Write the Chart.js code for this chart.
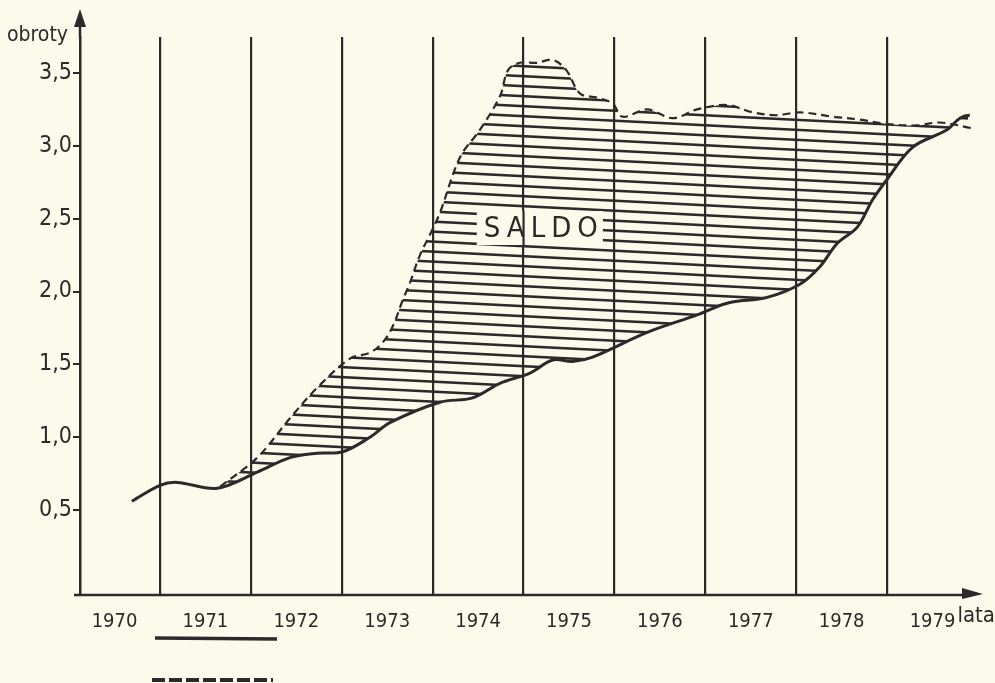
<!DOCTYPE html>
<html>
<head>
<meta charset="utf-8">
<script src="https://cdn.jsdelivr.net/npm/chart.js@4"></script>
<style>
  body { margin: 0; background: #fbfbec; }
  #wrap { width: 995px; height: 683px; position: relative; }
</style>
</head>
<body>
<div id="wrap"><canvas id="myChart"></canvas></div>
<script>
// year labels and band boundaries (vertical lines)
const years = [1970, 1971, 1972, 1973, 1974, 1975, 1976, 1977, 1978, 1979];
const boundaries = [1970.5, 1971.5, 1972.5, 1973.5, 1974.5, 1975.5, 1976.5, 1977.5, 1978.5];
const yTicks = [0.5, 1.0, 1.5, 2.0, 2.5, 3.0, 3.5];

// solid line (lower curve)
const solidX = [1970.19, 1970.5, 1970.69, 1971.13, 1971.57, 1971.93, 1972.23, 1972.51, 1972.81, 1973.03,
  1973.58, 1973.94, 1974.24, 1974.57, 1974.82, 1975.04, 1975.26, 1975.86, 1976.41, 1976.74,
  1977.18, 1977.54, 1977.76, 1977.95, 1978.17, 1978.34, 1978.5, 1978.78, 1979.16, 1979.3, 1979.41, 1979.47];
const solidY = [0.56, 0.67, 0.69, 0.65, 0.76, 0.86, 0.89, 0.90, 1.00, 1.10,
  1.24, 1.27, 1.37, 1.44, 1.53, 1.52, 1.55, 1.72, 1.84, 1.92,
  1.96, 2.05, 2.17, 2.33, 2.44, 2.63, 2.77, 2.99, 3.11, 3.19, 3.21, 3.19];

// dashed line (upper curve)
const dashedX = [1971.16, 1971.57, 1971.93, 1972.23, 1972.59, 1972.81, 1972.95, 1973.06, 1973.17, 1973.25,
  1973.36, 1973.47, 1973.58, 1973.8, 1974.02, 1974.24, 1974.33, 1974.46, 1974.65, 1974.82,
  1974.97, 1975.12, 1975.31, 1975.48, 1975.59, 1975.86, 1976.14, 1976.41, 1976.74, 1977.02,
  1977.28, 1977.54, 1977.9, 1978.2, 1978.5, 1978.83, 1979.08, 1979.44];
const dashedY = [0.66, 0.86, 1.13, 1.34, 1.54, 1.58, 1.65, 1.76, 1.94, 2.06,
  2.25, 2.39, 2.54, 2.92, 3.11, 3.34, 3.52, 3.57, 3.57, 3.59,
  3.52, 3.36, 3.33, 3.29, 3.20, 3.25, 3.19, 3.25, 3.28, 3.23,
  3.21, 3.23, 3.20, 3.18, 3.15, 3.14, 3.16, 3.12];

const ink = '#2a2a2a';
const paper = '#fbfbec';
const font = "'DejaVu Sans Condensed', 'DejaVu Sans', sans-serif";

// hatch pattern: slightly slanted horizontal lines
function makeHatch() {
    const c = document.createElement('canvas');
    c.width = 200; c.height = 10;
    const g = c.getContext('2d');
    g.strokeStyle = ink;
    g.lineWidth = 2.6;
    for (let k = -1; k <= 1; k++) {
        g.beginPath();
        g.moveTo(0, k * 10);
        g.lineTo(200, k * 10 + 10);
        g.stroke();
    }
    return g.createPattern(c, 'repeat');
}

const decor = {
    id: 'decor',
    afterDraw(chart) {
        const ctx = chart.ctx;
        const a = chart.chartArea;
        const xs = chart.scales.x, ys = chart.scales.y, gs = chart.scales.x2;
        ctx.save();
        ctx.strokeStyle = ink;
        ctx.fillStyle = ink;
        ctx.lineWidth = 2.5;
        // y axis extension + arrow
        ctx.beginPath();
        ctx.moveTo(a.left, a.top);
        ctx.lineTo(a.left, 20);
        ctx.stroke();
        ctx.beginPath();
        ctx.moveTo(a.left, 9);
        ctx.lineTo(a.left - 6, 27);
        ctx.lineTo(a.left + 6, 27);
        ctx.closePath();
        ctx.fill();
        // x axis extension + arrow
        ctx.beginPath();
        ctx.moveTo(a.left - 6, a.bottom);
        ctx.lineTo(a.right + 4, a.bottom);
        ctx.stroke();
        ctx.beginPath();
        ctx.moveTo(a.right + 15, a.bottom - 1);
        ctx.lineTo(a.right - 6, a.bottom - 7);
        ctx.lineTo(a.right - 6, a.bottom + 4);
        ctx.closePath();
        ctx.fill();
        // axis names
        ctx.font = '21px ' + font;
        ctx.textBaseline = 'middle';
        ctx.textAlign = 'left';
        ctx.fillText('obroty', 7, 36);
        ctx.font = '22px ' + font;
        ctx.textAlign = 'right';
        ctx.fillText('lata', 995, 616);
        // SALDO label
        const sx = xs.getPixelForValue(1974.69), sy = ys.getPixelForValue(2.436);
        ctx.font = '29px ' + font;
        ctx.letterSpacing = '6px';
        const w = ctx.measureText('SALDO').width;
        ctx.fillStyle = paper;
        ctx.fillRect(sx - w / 2 - 4, sy - 17, w + 6, 34);
        ctx.beginPath();
        const gx = gs.getPixelForValue(1974.5);
        ctx.lineWidth = 2.2;
        ctx.moveTo(gx, sy - 17);
        ctx.lineTo(gx, sy + 17);
        ctx.stroke();
        ctx.fillStyle = ink;
        ctx.textAlign = 'center';
        ctx.fillText('SALDO', sx + 3, sy + 1);
        ctx.letterSpacing = '0px';
        // legend keys
        ctx.lineWidth = 3.5;
        ctx.beginPath();
        ctx.moveTo(155, 638);
        ctx.lineTo(277, 639);
        ctx.stroke();
        ctx.setLineDash([13, 4]);
        ctx.lineWidth = 4;
        ctx.beginPath();
        ctx.moveTo(152, 680);
        ctx.lineTo(273, 680);
        ctx.stroke();
        ctx.restore();
    }
};

const ctx = document.getElementById('myChart');
new Chart(ctx.getContext('2d'), {
    type: 'line',
    data: {
        datasets: [{
            label: 'solid',
            data: solidX.map((x, i) => ({ x: x, y: solidY[i] })),
            borderColor: ink,
            borderWidth: 3,
            pointRadius: 0,
            tension: 0.35,
            fill: false,
            clip: false
        }, {
            label: 'dashed',
            data: dashedX.map((x, i) => ({ x: x, y: dashedY[i] })),
            borderColor: ink,
            borderWidth: 2.2,
            borderDash: [8, 5],
            pointRadius: 0,
            tension: 0.35,
            fill: 0,
            backgroundColor: makeHatch(),
            clip: false
        }]
    },
    options: {
        responsive: true,
        maintainAspectRatio: false,
        animation: false,
        layout: { padding: { top: 37, right: 27, left: 0, bottom: 0 } },
        plugins: {
            legend: { display: false },
            tooltip: { enabled: false }
        },
        scales: {
            x: {
                type: 'linear',
                position: 'bottom',
                min: 1969.62,
                max: 1979.39,
                afterBuildTicks: s => { s.ticks = years.map(v => ({ value: v })); },
                afterFit: s => { s.height = 88; },
                grid: { display: false },
                border: { display: false },
                ticks: {
                    color: ink,
                    padding: 7,
                    autoSkip: false,
                    maxRotation: 0,
                    font: { family: font, size: 20 },
                    callback: v => String(v)
                }
            },
            x2: {
                type: 'linear',
                position: 'bottom',
                min: 1969.62,
                max: 1979.39,
                afterBuildTicks: s => { s.ticks = boundaries.map(v => ({ value: v })); },
                afterFit: s => { s.height = 0; },
                grid: { color: ink, lineWidth: 2.2, drawTicks: false },
                border: { display: false },
                ticks: { display: false }
            },
            y: {
                min: -0.083,
                max: 3.747,
                afterBuildTicks: s => { s.ticks = yTicks.map(v => ({ value: v })); },
                afterFit: s => { s.width = 80; },
                grid: { drawOnChartArea: false, color: ink, lineWidth: 2, tickLength: 7 },
                border: { display: true, color: ink, width: 2.5 },
                ticks: {
                    color: ink,
                    padding: 1,
                    font: { family: font, size: 23 },
                    callback: v => v.toFixed(1).replace('.', ',')
                }
            }
        }
    },
    plugins: [decor]
});
</script>
</body>
</html>
